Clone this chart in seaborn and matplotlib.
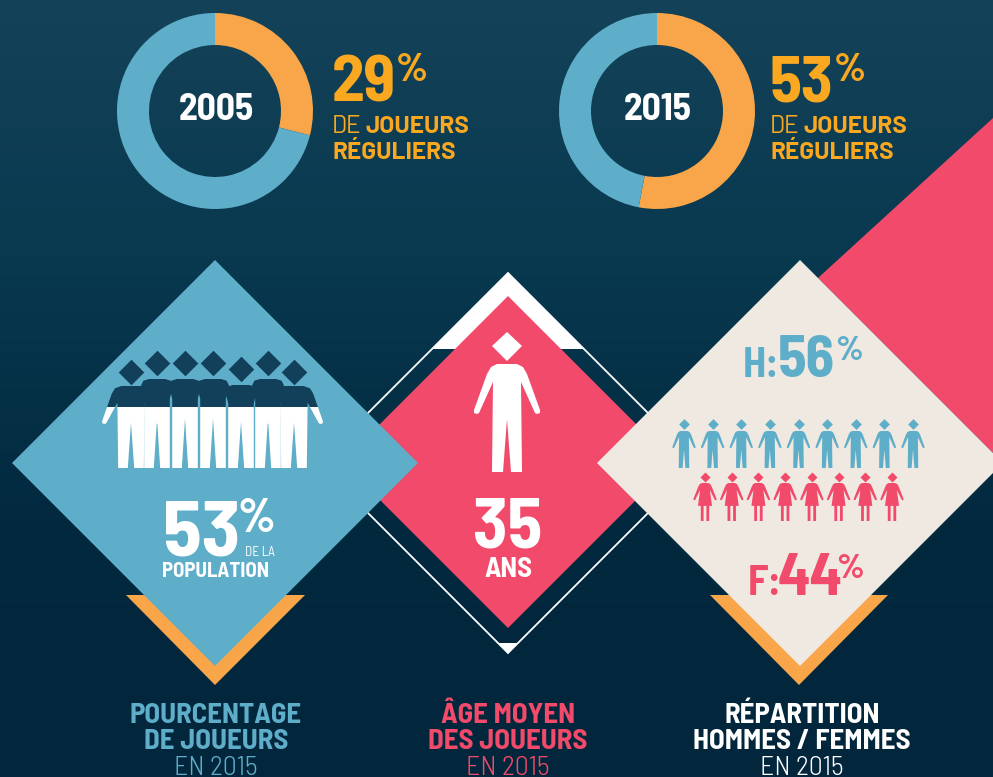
import numpy as np
import pandas as pd
import matplotlib
matplotlib.use("Agg")
import matplotlib.pyplot as plt
import seaborn as sns
from matplotlib import font_manager
from matplotlib.colors import LinearSegmentedColormap
from matplotlib.patches import Polygon, Rectangle

# Data
years = ["2005", "2015"]
regular_players = [29, 53]
population_share = 53
average_age = 35
men_share = 56
women_share = 44
men_icons = 9
women_icons = 8
crowd_icons = 7
titles = [
    ["POURCENTAGE", "DE JOUEURS"],
    ["ÂGE MOYEN", "DES JOUEURS"],
    ["RÉPARTITION", "HOMMES / FEMMES"],
]
subtitle = "EN 2015"

# Colours
BLUE = "#5faec9"
ORANGE = "#f9a64a"
AMBER = "#f9a81f"
PINK = "#f24a6a"
BEIGE = "#efe9e1"
NAVY = "#12405a"
WHITE = "#ffffff"

sns.set_theme(style="white")
installed = {f.name for f in font_manager.fontManager.ttflist}
TEXT_FONT = next((n for n in ["Barlow Semi Condensed", "Roboto Condensed", "Roboto"] if n in installed), "DejaVu Sans")
WIDE_FONT = next((n for n in ["Barlow", "Roboto Condensed", "Roboto"] if n in installed), "DejaVu Sans")
plt.rcParams["font.family"] = [TEXT_FONT, "DejaVu Sans"]

fig = plt.figure(figsize=(9.93, 7.77), dpi=100)
ax = fig.add_axes([0, 0, 1, 1], zorder=0)
ax.set_axis_off()

# Gradient background
bg = LinearSegmentedColormap.from_list("bg", ["#144259", "#08394f", "#02293f", "#03263c"])
ax.imshow(np.linspace(0, 1, 256).reshape(-1, 1), cmap=bg, aspect="auto", extent=(0, 993, 777, 0), zorder=0)


def poly(points, color, z):
    p = Polygon(points, closed=True, facecolor=color, edgecolor="none", zorder=z)
    ax.add_patch(p)
    return p


def diamond(cx, cy, half, color, z):
    return poly([(cx, cy - half), (cx + half, cy), (cx, cy + half), (cx - half, cy)], color, z)


MAN = [(0, 0), (10, 0), (16, 3), (20, 10), (33, 46), (33, 49), (30, 50), (28, 49),
       (14, 18), (15, 108), (4, 108), (0, 55)]
WOMAN = [(0, 0), (9, 0), (15, 3), (19, 10), (33, 45), (33, 48), (30, 49), (28, 48),
         (14, 20), (20, 65), (12, 65), (12, 108), (4, 108), (4, 65), (0, 65)]
OUTER = [(0, 0), (12, 0), (20, 3), (24, 10), (36, 46), (36, 49), (33, 50), (31, 49),
         (17, 22), (16, 108), (4, 108), (0, 48)]
NO_ARMS = [(0, 0), (10, 0), (17, 2), (20, 8), (16, 24), (16, 108), (4, 108), (0, 48)]


def icon(shape, cx, top, foot, width_scale, color, z):
    sy = (foot - top) / 108
    right = [(cx + x * width_scale, top + y * sy) for x, y in shape]
    left = [(cx - x * width_scale, top + y * sy) for x, y in reversed(shape)]
    return poly(right + left, color, z)


# Back shapes
poly([(818, 278), (993, 118), (993, 453)], PINK, 1)
poly([(126, 595), (305, 595), (215, 685)], ORANGE, 1)
poly([(710, 595), (888, 595), (799, 685)], ORANGE, 1)

# Centre diamond with its outline
outline = Polygon([(508, 273), (698, 463), (508, 653), (318, 463)], closed=True,
                  facecolor="none", edgecolor=WHITE, linewidth=1.3, zorder=1)
ax.add_patch(outline)
poly([(508, 273), (584, 349), (432, 349)], WHITE, 1.5)
poly([(508, 653), (498, 643), (518, 643)], WHITE, 1.5)
diamond(508, 462, 166, PINK, 2)
diamond(215, 463, 203, BLUE, 3)
diamond(800, 463, 203, BEIGE, 3)

# Crowd in the blue diamond, dark above the waist and white below
crowd_x = [131, 157, 185, 213, 241, 268, 294]
crowd_top = [386, 379, 379, 379, 385, 379, 386]
waist = Rectangle((0, 0), 993, 407, transform=ax.transData)
legs = Rectangle((0, 407), 993, 370, transform=ax.transData)
for i in range(crowd_icons):
    shape = OUTER if i in (0, crowd_icons - 1) else NO_ARMS
    upper = icon(shape, crowd_x[i], crowd_top[i], 468, 0.8, NAVY, 4)
    upper.set_clip_path(waist)
    lower = icon(shape, crowd_x[i], crowd_top[i], 468, 0.8, WHITE, 4)
    lower.set_clip_path(legs)

# Central man
icon(MAN, 507, 364, 472, 1.0, WHITE, 4)
poly([(507, 332), (522, 346), (507, 361), (492, 346)], WHITE, 4)

# Men and women rows
men_x = np.linspace(684, 913, men_icons)
women_x = np.linspace(705, 892, women_icons)
for x in men_x:
    icon(MAN, x, 431, 468, 0.35, BLUE, 4)
for x in women_x:
    icon(WOMAN, x, 483, 521, 0.35, PINK, 4)

heads = pd.concat([
    pd.DataFrame({"x": men_x, "y": 424.0, "who": "H"}),
    pd.DataFrame({"x": women_x, "y": 477.0, "who": "F"}),
    pd.DataFrame({"x": crowd_x, "y": [372, 363, 363, 363, 369, 363, 372], "who": "crowd"}),
])
for who, colour, size in [("H", BLUE, 30), ("F", PINK, 26), ("crowd", NAVY, 170)]:
    sns.scatterplot(data=heads[heads["who"] == who], x="x", y="y", marker="D", s=size,
                    color=colour, linewidth=0, legend=False, ax=ax, zorder=5)
ax.set_xlim(0, 993)
ax.set_ylim(777, 0)
ax.set_xlabel("")
ax.set_ylabel("")
ax.set_axis_off()


def label(x, y, text, size, color, weight="bold", ha="left", font=None):
    ax.text(x, y, text, fontsize=size, color=color, fontweight=weight, ha=ha, va="baseline",
            family=[font or TEXT_FONT, "DejaVu Sans"], zorder=6)


# Donuts
R = 98
for year, share, cx, tx in zip(years, regular_players, [215, 657], [332, 770]):
    d = fig.add_axes([(cx - R) / 993, 1 - (111 + R) / 777, 2 * R / 993, 2 * R / 777], zorder=2)
    d.pie([share, 100 - share], colors=[ORANGE, BLUE], startangle=90, counterclock=False, radius=1,
          wedgeprops={"width": 32 / 98, "linewidth": 0})
    d.set_xlim(-1, 1)
    d.set_ylim(-1, 1)
    d.patch.set_alpha(0)
    d.text(0.01, -0.09, year, fontsize=27, fontweight="bold", color=WHITE, ha="center", va="baseline",
           family=[TEXT_FONT, "DejaVu Sans"])
    label(tx, 101, str(share), 47, AMBER)
    label(tx + 64, 81, "%", 29, AMBER)
    label(tx, 133, "DE", 17.5, AMBER, weight="normal", font=WIDE_FONT)
    label(tx + 33, 133, "JOUEURS", 17.5, AMBER, font=WIDE_FONT)
    label(tx, 159, "RÉGULIERS", 17.5, AMBER, font=WIDE_FONT)

# Diamond texts
label(163, 555, str(population_share), 57, WHITE)
label(237, 532, "%", 34, WHITE)
label(245, 556, "DE LA", 9.5, WHITE, weight="normal")
label(216, 577, "POPULATION", 15, WHITE, ha="center")
label(508, 548, str(average_age), 51, WHITE, ha="center")
label(508, 577, "ANS", 20.5, WHITE, ha="center")
label(743, 377, "H:", 30, BLUE)
label(778, 377, str(men_share), 42, BLUE)
label(835, 360, "%", 25, BLUE)
label(748, 595, "F:", 30, PINK)
label(778, 595, str(women_share), 43, PINK)
label(836, 578, "%", 25, PINK)

# Bottom titles
for lines, cx, colour in zip(titles, [216, 508, 802], [BLUE, PINK, WHITE]):
    label(cx, 723, lines[0], 20.8, colour, ha="center")
    label(cx, 749, lines[1], 20.8, colour, ha="center")
    label(cx, 775, subtitle, 20, colour, weight=300, ha="center")

fig.savefig("out.png", dpi=100)
